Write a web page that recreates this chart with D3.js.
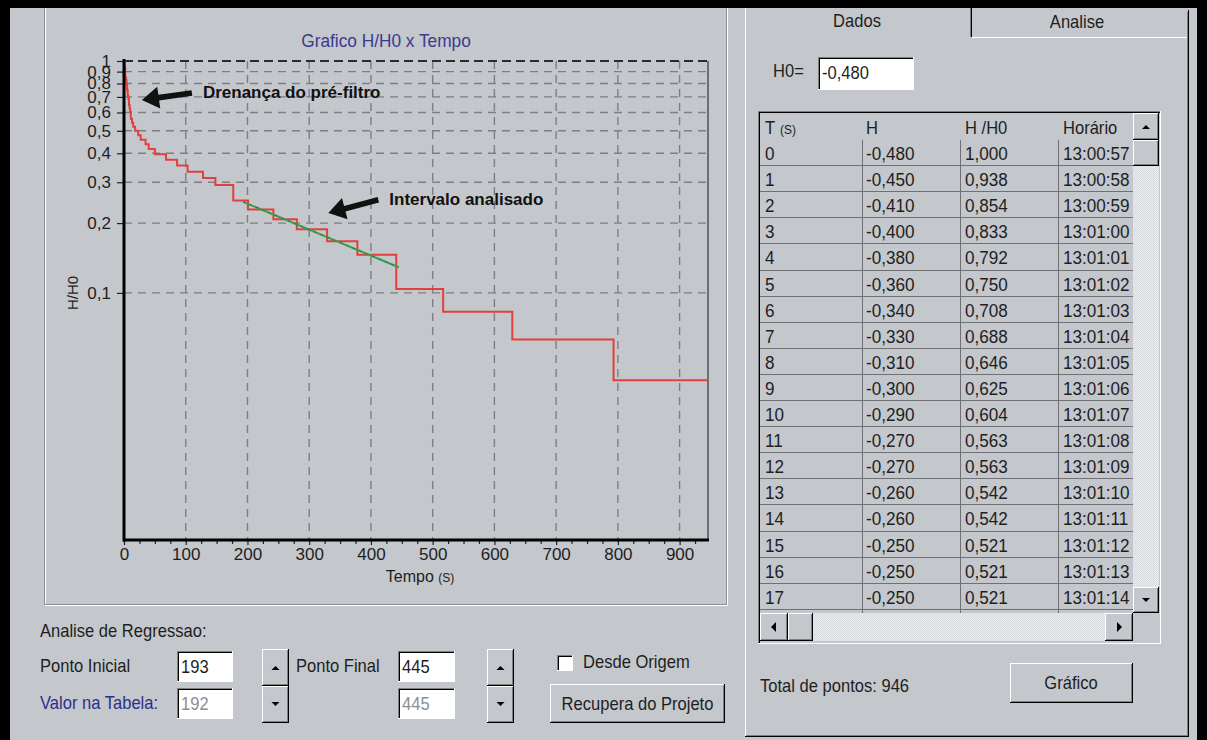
<!DOCTYPE html>
<html><head><meta charset="utf-8">
<script src="https://cdn.jsdelivr.net/npm/d3@7"></script>
<style>
html,body{margin:0;padding:0;background:#c4c7cb;overflow:hidden;}
svg text{font-family:"Liberation Sans",Arial,sans-serif;}
</style></head><body>
<svg id="c" width="1207" height="740"></svg>
<script>
// ---------------- data ----------------
const seriesT = [0,1,2,3,4,5,6,7,8,9,10,11,12,13,14,15,16,17,18,23,27,35,40,50,68,86,103,128,148,177,201,242,280,329,378,441,517,629,793,946];
const seriesRatio = [1.000,0.938,0.854,0.833,0.792,0.750,0.708,0.688,0.646,0.625,0.604,0.563,0.563,0.542,0.542,0.521,0.521,0.521,0.500,0.479,0.458,0.438,0.417,0.396,0.375,0.354,0.333,0.313,0.292,0.250,0.229,0.208,0.188,0.167,0.146,0.104,0.083,0.063,0.042,0.042];
const regT = [193, 445];
const regRatio = [0.247, 0.129];
const xTicks = [0,100,200,300,400,500,600,700,800,900];
const xMinorTicks = [25,50,75,125,150,175,225,250,275,325,350,375,425,450,475,525,550,575,625,650,675,725,750,775,825,850,875,925];
const yTicks = [0.1,0.2,0.3,0.4,0.5,0.6,0.7,0.8,0.9,1];
const yTickLabels = ["0,1","0,2","0,3","0,4","0,5","0,6","0,7","0,8","0,9","1"];
const annotTexts = ["Drenança do pré-filtro","Intervalo analisado"];
const annotTipT = [29, 331], annotTipV = [0.679, 0.221];
const annotTailT = [110, 412], annotTailV = [0.728, 0.252];

const tableHeader = ["T (S)","H","H /H0","Horário"];
const tableT = ["0","1","2","3","4","5","6","7","8","9","10","11","12","13","14","15","16","17"];
const tableH = ["-0,480","-0,450","-0,410","-0,400","-0,380","-0,360","-0,340","-0,330","-0,310","-0,300","-0,290","-0,270","-0,270","-0,260","-0,260","-0,250","-0,250","-0,250"];
const tableRatio = ["1,000","0,938","0,854","0,833","0,792","0,750","0,708","0,688","0,646","0,625","0,604","0,563","0,563","0,542","0,542","0,521","0,521","0,521"];
const tableTime = ["13:00:57","13:00:58","13:00:59","13:01:00","13:01:01","13:01:02","13:01:03","13:01:04","13:01:05","13:01:06","13:01:07","13:01:08","13:01:09","13:01:10","13:01:11","13:01:12","13:01:13","13:01:14"];

// ---------------- helpers ----------------
const BG = "#c4c7cb";
const svg = d3.select("#c");
const defs = svg.append("defs");
const pat = defs.append("pattern").attr("id","dither").attr("width",2).attr("height",2).attr("patternUnits","userSpaceOnUse");
pat.append("rect").attr("width",2).attr("height",2).attr("fill","#eceef0");
pat.append("rect").attr("width",1).attr("height",1).attr("fill","#d6d8db");
pat.append("rect").attr("x",1).attr("y",1).attr("width",1).attr("height",1).attr("fill","#d6d8db");

svg.append("rect").attr("width",1207).attr("height",740).attr("fill",BG);

function hl(p,x1,x2,y,c,w){p.append("line").attr("x1",x1).attr("x2",x2).attr("y1",y+0.5).attr("y2",y+0.5).attr("stroke",c).attr("stroke-width",w||1);}
function vl(p,x,y1,y2,c,w){p.append("line").attr("x1",x+0.5).attr("x2",x+0.5).attr("y1",y1).attr("y2",y2).attr("stroke",c).attr("stroke-width",w||1);}
function raised(p,x,y,w,h){
  p.append("rect").attr("x",x).attr("y",y).attr("width",w).attr("height",h).attr("fill",BG);
  hl(p,x,x+w,y,"#fff"); vl(p,x,y,y+h,"#fff");
  hl(p,x,x+w,y+h-1,"#000"); vl(p,x+w-1,y,y+h,"#000");
  hl(p,x+1,x+w-1,y+h-2,"#808080"); vl(p,x+w-2,y+1,y+h-1,"#808080");
}
function sunken(p,x,y,w,h,fill){
  p.append("rect").attr("x",x).attr("y",y).attr("width",w).attr("height",h).attr("fill",fill||"#fff");
  hl(p,x,x+w,y,"#808080"); vl(p,x,y,y+h,"#808080");
  hl(p,x+1,x+w-1,y+1,"#000"); vl(p,x+1,y+1,y+h-1,"#000");
  hl(p,x,x+w,y+h-1,"#fff"); vl(p,x+w-1,y,y+h,"#fff");
}
function txt(p,x,y,s,o){
  o=o||{};
  const t=p.append("text").attr("transform",`translate(${x},${y}) scale(${o.sx||0.92},1)`)
    .attr("font-size",o.size||18).attr("fill",o.fill||"#1e1e1e").attr("text-anchor",o.anchor||"start").text(s);
  if(o.weight) t.attr("font-weight",o.weight);
  return t;
}
function tri(p,cx,cy,up){
  const s=up?-1:1;
  p.append("path").attr("d",`M${cx-4},${cy-2*s} L${cx+4},${cy-2*s} L${cx},${cy+2*s} Z`).attr("fill","#000");
}

// ---------------- window frame ----------------
const ui = svg.append("g");
vl(ui,44,8,605,"#8a8d91"); vl(ui,45,8,606,"#fff");
hl(ui,44,727,604,"#8a8d91"); hl(ui,45,728,605,"#fff");
vl(ui,726,8,605,"#8a8d91"); vl(ui,727,8,606,"#fff");

// ---------------- chart ----------------
const x = d3.scaleLinear().domain([0,946]).range([124,708]);
const y = d3.scaleLog().domain([0.0086,1]).range([540,61]);
const ch = svg.append("g");

ch.append("g").selectAll("line").data(xTicks.slice(1)).join("line")
  .attr("x1",d=>x(d)).attr("x2",d=>x(d)).attr("y1",y(1)).attr("y2",y.range()[0])
  .attr("stroke","#7d7f82").attr("stroke-width",1.4).attr("stroke-dasharray","8,6");
ch.append("g").selectAll("line").data(yTicks.slice(0,-1)).join("line")
  .attr("x1",x(0)).attr("x2",x.range()[1]).attr("y1",d=>y(d)).attr("y2",d=>y(d))
  .attr("stroke","#7d7f82").attr("stroke-width",1.4).attr("stroke-dasharray","8,6");
ch.append("line").attr("x1",x(0)).attr("x2",x.range()[1]).attr("y1",y(1)).attr("y2",y(1))
  .attr("stroke","#2a2a2a").attr("stroke-width",2).attr("stroke-dasharray","9,5");
ch.append("line").attr("x1",x.range()[1]).attr("x2",x.range()[1]).attr("y1",y(1)).attr("y2",y.range()[0])
  .attr("stroke","#55585c").attr("stroke-width",1.6);

const pts = seriesT.map((t,i)=>({t,v:seriesRatio[i]}));
ch.append("path").datum(pts)
  .attr("d",d3.line().x(d=>x(d.t)).y(d=>y(d.v)).curve(d3.curveStepAfter))
  .attr("fill","none").attr("stroke","#e2403f").attr("stroke-width",2);
const reg = regT.map((t,i)=>({t,v:regRatio[i]}));
ch.append("path").datum(reg)
  .attr("d",d3.line().x(d=>x(d.t)).y(d=>y(d.v)))
  .attr("fill","none").attr("stroke","#35a050").attr("stroke-width",2);
ch.append("path").datum(reg)
  .attr("d",d3.line().x(d=>x(d.t)).y(d=>y(d.v)))
  .attr("fill","none").attr("stroke","#1f5f35").attr("stroke-width",1).attr("stroke-dasharray","2,5").attr("opacity",0.7);

const xAxis = ch.append("g").attr("transform",`translate(0,${y.range()[0]})`)
  .call(d3.axisBottom(x).tickValues(xTicks).tickSize(5).tickPadding(3).tickFormat(d3.format("d")));
const xMinor = ch.append("g").attr("transform",`translate(0,${y.range()[0]})`)
  .call(d3.axisBottom(x).tickValues(xMinorTicks).tickSize(4).tickFormat(""));
const yAxis = ch.append("g").attr("transform",`translate(${x(0)},0)`)
  .call(d3.axisLeft(y).tickValues(yTicks).tickSize(7).tickPadding(6).tickFormat((d,i)=>yTickLabels[i]));
[xAxis,xMinor,yAxis].forEach(a=>{
  a.select(".domain").remove();
  a.selectAll(".tick line").attr("stroke","#222").attr("stroke-width",1.2);
  a.selectAll(".tick text").attr("font-size",17).attr("fill","#1e1e1e")
   .attr("font-family","Liberation Sans, Arial, sans-serif");
});
xAxis.selectAll(".tick text").attr("dy","0.72em");
ch.append("line").attr("x1",x(0)).attr("x2",x(0)).attr("y1",y(1)-2).attr("y2",y.range()[0]+1.5)
  .attr("stroke","#000").attr("stroke-width",3);
ch.append("line").attr("x1",x(0)-1).attr("x2",x.range()[1]+1).attr("y1",y.range()[0]).attr("y2",y.range()[0])
  .attr("stroke","#000").attr("stroke-width",3);

txt(ch,386,47,"Grafico H/H0 x Tempo",{size:18,sx:0.96,anchor:"middle",fill:"#3a3a8f"});
const xl = ch.append("text").attr("x",420).attr("y",582).attr("text-anchor","middle").attr("fill","#1e1e1e");
xl.append("tspan").attr("font-size",16).text("Tempo ");
xl.append("tspan").attr("font-size",12).text("(S)");
ch.append("text").attr("transform","translate(78,293) rotate(-90)").attr("text-anchor","middle")
  .attr("font-size",15).attr("fill","#1e1e1e").text("H/H0");

annotTexts.forEach((s,i)=>{
  const x2=x(annotTipT[i]), y2=y(annotTipV[i]), x1=x(annotTailT[i]), y1=y(annotTailV[i]);
  const dx=x2-x1, dy=y2-y1, L=Math.hypot(dx,dy), ux=dx/L, uy=dy/L, nx=-uy, ny=ux;
  const hlen=17, hw=11, sw=2.8;
  const bx=x2-ux*hlen, by=y2-uy*hlen;
  const p=[[x1+nx*sw,y1+ny*sw],[bx+nx*sw,by+ny*sw],[bx+nx*hw,by+ny*hw],[x2,y2],[bx-nx*hw,by-ny*hw],[bx-nx*sw,by-ny*sw],[x1-nx*sw,y1-ny*sw]];
  ch.append("path").attr("d","M"+p.map(q=>q.join(",")).join("L")+"Z").attr("fill","#111");
  ch.append("text").attr("x",x1+11).attr("y",y1+5).attr("font-size",17).attr("font-weight","bold")
    .attr("fill","#111").text(s);
});

// ---------------- bottom-left controls ----------------
txt(ui,40,637,"Analise de Regressao:");
txt(ui,40,672,"Ponto Inicial");
txt(ui,40,709,"Valor na Tabela:",{fill:"#2e2e8a"});
sunken(ui,177,651,56,31,"#fff"); txt(ui,181,673,"193");
sunken(ui,177,688,56,31,"#fff"); txt(ui,181,710,"192",{fill:"#8c8e92"});
raised(ui,262,649,27,37); tri(ui,275.5,668,true);
raised(ui,262,686,27,37); tri(ui,275.5,704,false);
txt(ui,296,672,"Ponto Final");
sunken(ui,398,651,57,31,"#fff"); txt(ui,402,673,"445");
sunken(ui,398,688,57,31,"#fff"); txt(ui,402,710,"445",{fill:"#8c8e92"});
raised(ui,487,649,27,37); tri(ui,500.5,668,true);
raised(ui,487,686,27,37); tri(ui,500.5,704,false);
sunken(ui,557,655,16,16,"#fff");
txt(ui,583,668,"Desde Origem");
raised(ui,550,684,175,39);
txt(ui,637.5,710,"Recupera do Projeto",{anchor:"middle"});

// ---------------- right tab panel ----------------
vl(ui,745,8,737,"#fff");
hl(ui,972,1189,37,"#fff");
vl(ui,1188,10,737,"#000"); vl(ui,1187,12,736,"#808080");
hl(ui,745,1189,736,"#000"); hl(ui,746,1188,735,"#808080");
vl(ui,971,8,37,"#000"); vl(ui,970,8,37,"#808080");
txt(ui,857,27,"Dados",{anchor:"middle"});
txt(ui,1077,28,"Analise",{anchor:"middle"});
txt(ui,773,77,"H0=");
sunken(ui,818,57,96,33,"#fff"); txt(ui,822,79,"-0,480");

const tb = ui.append("g");
sunken(tb,758,111,403,533,BG);
const colX = [765,866,965,1063];
const sepX = [862,960,1058];
const rowTop = 140, rowH = 26.1;
tableHeader.forEach((h,i)=>{
  if(i===0){ txt(tb,colX[0],134,"T"); txt(tb,colX[0]+15,134,"(S)",{size:13}); }
  else txt(tb,colX[i],134,h);
});
const cells = tb.append("g").attr("clip-path","url(#cellclip)");
defs.append("clipPath").attr("id","cellclip").append("rect").attr("x",760).attr("y",rowTop).attr("width",373).attr("height",473);
hl(cells,760,1133,rowTop-1,"#6e7073");
const cols=[tableT,tableH,tableRatio,tableTime];
tableT.forEach((_,r)=>{
  const yy = rowTop + r*rowH;
  hl(cells,760,1133,Math.round(yy+rowH)-1,"#6e7073");
  cols.forEach((c,ci)=>txt(cells,colX[ci],yy+rowH/2+7,c[r],{size:19,sx:0.9}));
});
sepX.forEach(sx=>vl(cells,sx,rowTop,613,"#6e7073"));
tb.append("rect").attr("x",1133).attr("y",113).attr("width",26).attr("height",500).attr("fill","url(#dither)");
raised(tb,1133,113,26,27); tri(tb,1146,127,true);
raised(tb,1133,140,26,26);
raised(tb,1133,587,26,26); tri(tb,1146,600,false);
tb.append("rect").attr("x",760).attr("y",613).attr("width",373).attr("height",28).attr("fill","url(#dither)");
raised(tb,760,613,28,28);
tb.append("path").attr("d","M771,627 L776,622 L776,632 Z").attr("fill","#000");
raised(tb,788,613,25,28);
raised(tb,1105,613,28,28);
tb.append("path").attr("d","M1122,627 L1117,622 L1117,632 Z").attr("fill","#000");
tb.append("rect").attr("x",1133).attr("y",613).attr("width",26).attr("height",28).attr("fill",BG);

txt(ui,760,692,"Total de pontos:  946");
raised(ui,1010,663,123,40);
txt(ui,1071,689,"Gráfico",{anchor:"middle"});

// ---------------- outer black frame ----------------
svg.append("rect").attr("x",0).attr("y",0).attr("width",1207).attr("height",8).attr("fill","#000");
svg.append("rect").attr("x",0).attr("y",0).attr("width",10).attr("height",740).attr("fill","#000");
svg.append("rect").attr("x",1197).attr("y",0).attr("width",10).attr("height",740).attr("fill","#000");
</script>
</body></html>
